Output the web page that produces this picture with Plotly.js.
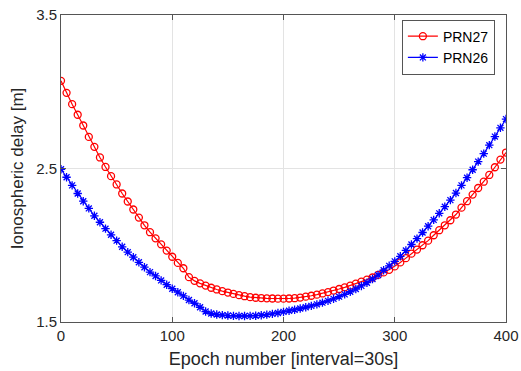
<!DOCTYPE html>
<html>
<head>
<meta charset="utf-8">
<script src="https://cdn.plot.ly/plotly-3.0.1.min.js"></script>
<style>html,body{margin:0;padding:0;background:#fff;}#chart{width:521px;height:371px;}</style>
</head>
<body>
<div id="chart"></div>
<script>
// Epoch numbers (every 5 epochs, 0..400)
const epochs = [];
for (let e = 0; e <= 400; e += 5) epochs.push(e);

// Ionospheric delay [m]
const prn27 = [
  3.071, 2.993, 2.919, 2.850, 2.780, 2.706, 2.641, 2.572, 2.510, 2.450,
  2.396, 2.337, 2.285, 2.233, 2.180, 2.130, 2.085, 2.045, 2.006, 1.965,
  1.925, 1.885, 1.850, 1.792, 1.768, 1.752, 1.737, 1.723, 1.712, 1.701,
  1.692, 1.683, 1.675, 1.668, 1.662, 1.658, 1.656, 1.654, 1.653, 1.652,
  1.652, 1.653, 1.655, 1.659, 1.665, 1.671, 1.678, 1.686, 1.695, 1.705,
  1.715, 1.726, 1.737, 1.750, 1.763, 1.776, 1.790, 1.807, 1.823, 1.840,
  1.862, 1.888, 1.916, 1.945, 1.972, 2.000, 2.030, 2.065, 2.098, 2.130,
  2.163, 2.200, 2.245, 2.287, 2.330, 2.373, 2.414, 2.458, 2.508, 2.558,
  2.604
];
const prn26 = [
  2.495, 2.443, 2.390, 2.337, 2.287, 2.240, 2.192, 2.150, 2.108, 2.068,
  2.030, 1.990, 1.955, 1.922, 1.889, 1.857, 1.825, 1.800, 1.771, 1.743,
  1.717, 1.694, 1.670, 1.643, 1.622, 1.596, 1.568, 1.555, 1.549, 1.545,
  1.542, 1.540, 1.539, 1.539, 1.540, 1.541, 1.544, 1.548, 1.553, 1.559,
  1.566, 1.573, 1.580, 1.588, 1.596, 1.605, 1.615, 1.626, 1.638, 1.651,
  1.665, 1.680, 1.697, 1.715, 1.735, 1.756, 1.780, 1.806, 1.837, 1.866,
  1.895, 1.928, 1.966, 2.005, 2.043, 2.083, 2.124, 2.165, 2.208, 2.251,
  2.294, 2.340, 2.390, 2.440, 2.492, 2.545, 2.597, 2.652, 2.708, 2.765,
  2.822
];

const seriesNames = ['PRN27', 'PRN26'];
const xTicks = [0, 100, 200, 300, 400];
const xTickText = ['0', '100', '200', '300', '400'];
const yTicks = [1.5, 2.5, 3.5];
const yTickText = ['1.5', '2.5', '3.5'];

const FONT = 'Liberation Sans, Arial, Helvetica, sans-serif';
const AX = '#262626';

const traces = [
  {
    x: epochs, y: prn27, name: seriesNames[0], type: 'scatter', mode: 'lines+markers',
    line: {color: '#ff0000', width: 1.2},
    marker: {symbol: 'circle-open', size: 7, color: '#ff0000', line: {width: 1.3, color: '#ff0000'}}
  },
  {
    x: epochs, y: prn26, name: seriesNames[1], type: 'scatter', mode: 'lines+markers',
    line: {color: '#0000ff', width: 1.2},
    marker: {symbol: 'asterisk-open', size: 7, color: '#0000ff', line: {width: 1.3, color: '#0000ff'}}
  }
];

const layout = {
  width: 521, height: 371,
  margin: {l: 61, r: 15, t: 15, b: 49, pad: 0},
  paper_bgcolor: '#ffffff', plot_bgcolor: '#ffffff',
  font: {family: FONT, color: AX, size: 15},
  showlegend: true,
  legend: {
    x: 0.975, y: 0.985, xanchor: 'right', yanchor: 'top',
    bgcolor: '#ffffff', bordercolor: '#555555', borderwidth: 1,
    font: {family: FONT, size: 14, color: '#000000'},
    traceorder: 'normal', tracegroupgap: 0
  },
  xaxis: {
    range: [0, 400], tickmode: 'array', tickvals: xTicks, ticktext: xTickText,
    showgrid: true, gridcolor: '#e3e3e3', gridwidth: 1,
    zeroline: false, showline: true, linecolor: '#555555', linewidth: 1, mirror: 'ticks',
    ticks: 'inside', ticklen: 5, tickcolor: '#555555',
    tickfont: {family: FONT, size: 15, color: AX},
    title: {text: 'Epoch number [interval=30s]', font: {family: FONT, size: 18, color: AX}, standoff: 9}
  },
  yaxis: {
    range: [1.5, 3.5], tickmode: 'array', tickvals: yTicks, ticktext: yTickText,
    showgrid: true, gridcolor: '#e3e3e3', gridwidth: 1,
    zeroline: false, showline: true, linecolor: '#555555', linewidth: 1, mirror: 'ticks',
    ticks: 'inside', ticklen: 5, tickcolor: '#555555',
    tickfont: {family: FONT, size: 15, color: AX},
    title: {text: 'Ionospheric delay [m]', font: {family: FONT, size: 17, color: AX}, standoff: 8}
  }
};

Plotly.newPlot('chart', traces, layout, {displayModeBar: false, staticPlot: true});
</script>
</body>
</html>
